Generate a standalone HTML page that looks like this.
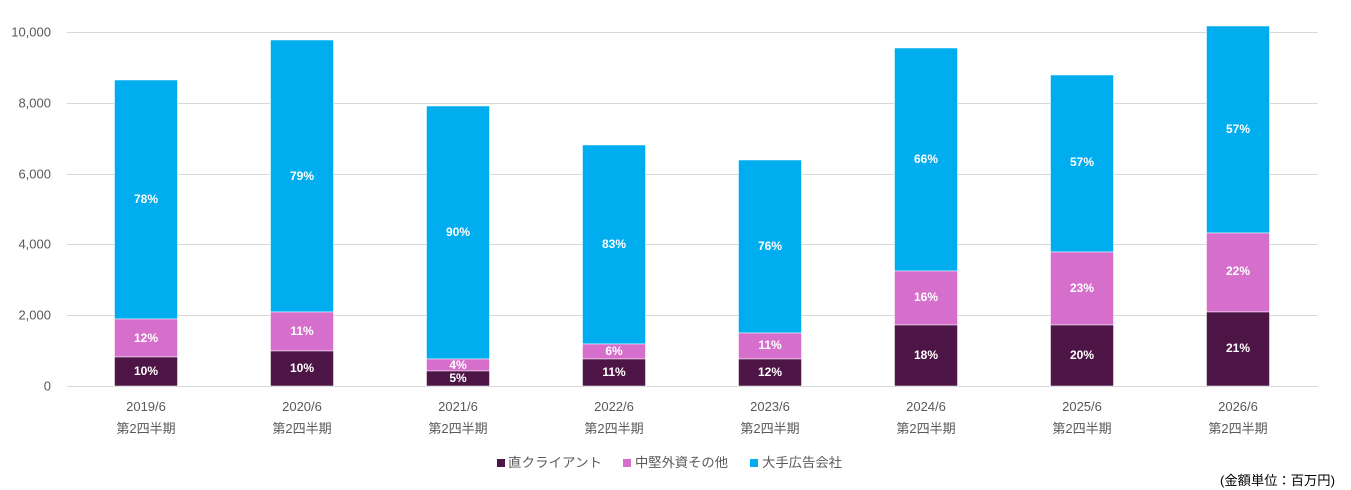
<!DOCTYPE html>
<html><head><meta charset="utf-8"><style>
html,body{margin:0;padding:0;background:#fff}
svg{display:block;font-family:"Liberation Sans","Noto Sans CJK JP",sans-serif}
.ax{font-size:13px;fill:#595959}
.lb{font-size:12px;fill:#fff;font-weight:bold;text-anchor:middle;dominant-baseline:central}
</style></head><body>
<svg width="1351" height="490" viewBox="0 0 1351 490">
<g stroke="#d9d9d9" stroke-width="1">
<line x1="67" x2="1318" y1="32.5" y2="32.5"/>
<line x1="67" x2="1318" y1="103.5" y2="103.5"/>
<line x1="67" x2="1318" y1="174.5" y2="174.5"/>
<line x1="67" x2="1318" y1="244.5" y2="244.5"/>
<line x1="67" x2="1318" y1="315.5" y2="315.5"/>
<line x1="67" x2="1318" y1="386.5" y2="386.5"/>
</g>
<g class="ax" text-anchor="end" dominant-baseline="central">
<text x="51" y="32">10,000</text><text x="51" y="103">8,000</text><text x="51" y="174">6,000</text>
<text x="51" y="244">4,000</text><text x="51" y="315">2,000</text><text x="51" y="386">0</text>
</g>
<g stroke="#fff" stroke-width="0.5">
<rect x="114.5" y="80" width="63" height="239" fill="#00aeef"/>
<rect x="114.5" y="319" width="63" height="38" fill="#d66fcc"/>
<rect x="114.5" y="357" width="63" height="29" fill="#4d1545"/>
<rect x="270.5" y="40" width="63" height="272" fill="#00aeef"/>
<rect x="270.5" y="312" width="63" height="39" fill="#d66fcc"/>
<rect x="270.5" y="351" width="63" height="35" fill="#4d1545"/>
<rect x="426.5" y="106" width="63" height="253" fill="#00aeef"/>
<rect x="426.5" y="359" width="63" height="12" fill="#d66fcc"/>
<rect x="426.5" y="371" width="63" height="15" fill="#4d1545"/>
<rect x="582.5" y="145" width="63" height="199" fill="#00aeef"/>
<rect x="582.5" y="344" width="63" height="15" fill="#d66fcc"/>
<rect x="582.5" y="359" width="63" height="27" fill="#4d1545"/>
<rect x="738.5" y="160" width="63" height="173" fill="#00aeef"/>
<rect x="738.5" y="333" width="63" height="26" fill="#d66fcc"/>
<rect x="738.5" y="359" width="63" height="27" fill="#4d1545"/>
<rect x="894.5" y="48" width="63" height="223" fill="#00aeef"/>
<rect x="894.5" y="271" width="63" height="54" fill="#d66fcc"/>
<rect x="894.5" y="325" width="63" height="61" fill="#4d1545"/>
<rect x="1050.5" y="75" width="63" height="177" fill="#00aeef"/>
<rect x="1050.5" y="252" width="63" height="73" fill="#d66fcc"/>
<rect x="1050.5" y="325" width="63" height="61" fill="#4d1545"/>
<rect x="1206.5" y="26" width="63" height="207" fill="#00aeef"/>
<rect x="1206.5" y="233" width="63" height="79" fill="#d66fcc"/>
<rect x="1206.5" y="312" width="63" height="74" fill="#4d1545"/>
</g>
<g class="lb">
<text x="146" y="199">78%</text><text x="146" y="338">12%</text><text x="146" y="371">10%</text>
<text x="302" y="176">79%</text><text x="302" y="331">11%</text><text x="302" y="368">10%</text>
<text x="458" y="232">90%</text><text x="458" y="365">4%</text><text x="458" y="378">5%</text>
<text x="614" y="244">83%</text><text x="614" y="351">6%</text><text x="614" y="372">11%</text>
<text x="770" y="246">76%</text><text x="770" y="345">11%</text><text x="770" y="372">12%</text>
<text x="926" y="159">66%</text><text x="926" y="297">16%</text><text x="926" y="355">18%</text>
<text x="1082" y="162">57%</text><text x="1082" y="288">23%</text><text x="1082" y="355">20%</text>
<text x="1238" y="129">57%</text><text x="1238" y="271">22%</text><text x="1238" y="348">21%</text>
</g>
<g class="ax" text-anchor="middle">
<text x="146" y="411">2019/6</text><text x="146" y="433">第2四半期</text>
<text x="302" y="411">2020/6</text><text x="302" y="433">第2四半期</text>
<text x="458" y="411">2021/6</text><text x="458" y="433">第2四半期</text>
<text x="614" y="411">2022/6</text><text x="614" y="433">第2四半期</text>
<text x="770" y="411">2023/6</text><text x="770" y="433">第2四半期</text>
<text x="926" y="411">2024/6</text><text x="926" y="433">第2四半期</text>
<text x="1082" y="411">2025/6</text><text x="1082" y="433">第2四半期</text>
<text x="1238" y="411">2026/6</text><text x="1238" y="433">第2四半期</text>
</g>
<rect x="497" y="459" width="8" height="8" fill="#4d1545"/>
<text class="ax" x="508" y="467" textLength="94" lengthAdjust="spacingAndGlyphs">直クライアント</text>
<rect x="623" y="459" width="8" height="8" fill="#d66fcc"/>
<text class="ax" x="635" y="467" textLength="93" lengthAdjust="spacingAndGlyphs">中堅外資その他</text>
<rect x="750" y="459" width="8" height="8" fill="#00aeef"/>
<text class="ax" x="762" y="467" textLength="80" lengthAdjust="spacingAndGlyphs">大手広告会社</text>
<text x="1220" y="485" textLength="115" lengthAdjust="spacingAndGlyphs" style="font-size:13px;fill:#000">(金額単位：百万円)</text>
</svg>
</body></html>
